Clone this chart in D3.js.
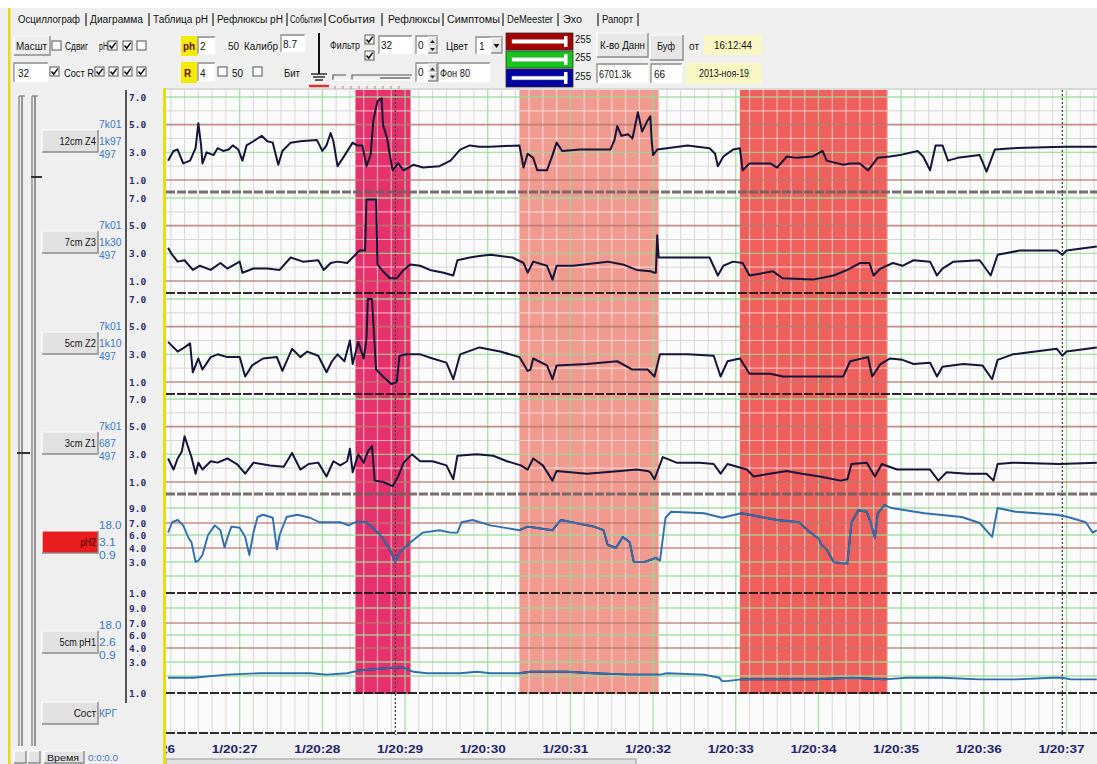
<!DOCTYPE html>
<html><head><meta charset="utf-8">
<script src="https://cdn.jsdelivr.net/npm/d3@7"></script>
<style>
html,body{margin:0;padding:0;background:#fff;overflow:hidden;}
svg{display:block;font-family:"Liberation Sans",Arial,sans-serif;}
</style></head><body>
<svg id="c" width="1097" height="764"></svg>
<script>
// ---------------- DATA ----------------
const tabLabels = ["Осциллограф","Диаграмма","Таблица pH","Рефлюксы pH","События","События","Рефлюксы","Симптомы","DeMeester","Эхо","Рапорт"];
const tickLabels = ["1/20:26","1/20:27","1/20:28","1/20:29","1/20:30","1/20:31","1/20:32","1/20:33","1/20:34","1/20:35","1/20:36","1/20:37"];
const tickSeconds = [0,60,120,180,240,300,360,420,480,540,600,660];
const channelNames = ["12cm Z4","7cm Z3","5cm Z2","3cm Z1","pH2","5cm pH1"];
const channelInfo = [["7k01","1k97","497"],["7k01","1k30","497"],["7k01","1k10","497"],["7k01","687","497"],["18.0","3.1","0.9"],["18.0","2.6","0.9"]];
const pressureTicks = [7,5,3,1];
const phTicks = [9,7,6,4,3,1];
const bandStart = [144,263,423];
const bandEnd = [184,364,530];
const cursorTimes = [173,657];

// traces: [seconds after 1/20:26:00, value]
const z4Data = [[8,2.4],[12,3.1],[15,3.2],[19,2.2],[24,2.4],[28,3.3],[30,5.1],[32,3.5],[33,2.2],[36,3.0],[41,2.8],[44,3.3],[48,3.1],[52,3.2],[55,3.5],[59,3.2],[62,2.4],[65,3.5],[70,3.8],[76,4.2],[80,3.8],[84,3.7],[88,2.1],[91,3.1],[97,3.7],[104,3.8],[116,3.9],[120,3.1],[123,3.5],[126,4.4],[128,3.8],[131,2.0],[135,2.6],[142,3.7],[145,3.5],[149,3.5],[152,2.0],[155,2.8],[157,5.3],[160,6.7],[163,6.9],[164,5.0],[167,4.0],[169,2.8],[171,1.7],[175,2.2],[179,1.7],[186,2.1],[193,1.9],[205,2.0],[213,2.4],[220,3.2],[227,3.5],[234,3.4],[242,3.4],[263,3.5],[266,1.9],[269,2.9],[273,2.6],[276,1.7],[283,1.7],[287,2.8],[290,3.7],[294,3.1],[307,3.2],[329,3.2],[332,3.9],[334,4.9],[337,4.2],[342,4.3],[345,4.0],[349,5.9],[352,4.5],[356,5.3],[358,5.6],[359,3.8],[360,2.8],[363,3.2],[370,3.3],[385,3.5],[401,3.3],[405,2.9],[407,2.0],[411,2.7],[418,3.2],[423,3.3],[425,1.7],[430,2.2],[445,2.2],[450,1.9],[457,2.7],[464,2.6],[476,2.7],[483,3.1],[486,2.4],[494,2.2],[498,2.1],[503,2.2],[510,2.2],[516,1.7],[523,2.6],[532,2.7],[539,2.8],[552,3.1],[556,2.7],[561,1.7],[565,3.5],[570,3.5],[574,2.4],[581,2.6],[597,2.8],[602,1.6],[608,3.2],[621,3.3],[658,3.4],[682,3.4]];
const z3Data = [[8,3.4],[11,2.9],[15,2.4],[20,2.5],[26,1.8],[31,2.1],[39,1.8],[46,2.3],[51,1.9],[60,2.4],[62,1.6],[70,1.9],[80,1.9],[89,1.8],[97,2.7],[106,2.4],[117,2.5],[121,1.8],[126,2.3],[131,2.4],[138,2.3],[142,2.7],[147,3.2],[151,3.2],[152,6.9],[159,6.9],[160,2.2],[164,1.7],[169,1.2],[174,1.2],[179,1.8],[184,2.2],[191,2.1],[198,1.8],[208,1.6],[215,1.4],[218,2.5],[227,2.7],[234,2.8],[242,2.9],[258,2.7],[266,2.3],[269,1.6],[273,2.4],[283,2.1],[287,1.1],[290,2.1],[302,2.1],[327,2.4],[338,2.2],[348,1.8],[358,1.7],[361,1.6],[362,1.6],[363,4.3],[364,2.7],[370,2.7],[401,2.7],[407,1.4],[411,2.1],[418,2.4],[425,2.3],[430,1.4],[447,1.7],[454,1.2],[476,1.1],[491,1.4],[501,1.8],[510,2.3],[517,2.3],[520,1.4],[525,1.9],[534,2.3],[541,2.1],[549,2.5],[561,2.4],[566,1.4],[570,1.9],[578,2.4],[597,2.5],[605,1.4],[610,2.9],[626,3.2],[653,3.2],[657,2.9],[660,3.2],[682,3.5]];
const z2Data = [[8,3.9],[12,3.5],[15,3.2],[20,3.5],[24,3.8],[26,1.7],[30,2.7],[33,1.9],[39,2.8],[44,3.0],[51,2.8],[60,2.8],[64,1.4],[69,2.2],[77,2.7],[87,2.8],[91,1.8],[98,3.4],[104,2.8],[109,3.2],[117,2.9],[123,1.7],[127,2.5],[131,3.0],[136,2.5],[140,4.0],[142,2.3],[146,3.9],[150,2.7],[152,4.1],[153,7.0],[156,7.0],[159,1.9],[164,1.4],[170,0.85],[174,1.0],[176,2.9],[181,3.0],[191,3.0],[200,2.7],[210,2.4],[215,1.2],[220,3.0],[234,3.5],[249,3.2],[263,2.8],[269,1.8],[271,1.9],[273,2.7],[283,2.2],[287,1.2],[290,2.2],[312,2.3],[334,2.5],[345,1.9],[356,1.9],[361,1.4],[365,3.0],[385,3.0],[404,2.9],[409,1.4],[414,2.5],[423,2.7],[430,1.6],[445,1.6],[454,1.4],[469,1.4],[498,1.4],[503,2.5],[516,2.8],[519,1.4],[525,2.3],[532,2.7],[541,2.6],[549,2.3],[561,2.4],[566,1.4],[570,2.1],[585,2.3],[599,2.2],[606,1.2],[610,2.6],[621,3.0],[653,3.4],[657,2.9],[660,3.2],[682,3.5]];
const z1Data = [[8,2.7],[12,1.9],[15,2.7],[18,3.2],[20,4.3],[23,3.4],[25,2.8],[28,1.6],[30,2.4],[33,1.9],[39,2.5],[44,2.4],[51,2.7],[58,2.3],[64,1.6],[70,2.4],[82,2.2],[92,2.1],[98,3.1],[104,1.9],[110,2.3],[117,2.4],[123,1.4],[128,2.5],[133,2.2],[138,2.5],[140,3.4],[142,1.7],[146,3.0],[150,2.4],[153,3.2],[156,3.6],[158,1.1],[164,1.0],[171,0.7],[175,1.4],[179,2.4],[185,3.0],[191,2.5],[200,2.5],[210,2.2],[215,1.2],[218,2.9],[232,3.0],[244,2.9],[254,2.5],[264,2.2],[269,1.9],[273,2.7],[280,2.2],[287,1.1],[290,1.8],[312,1.6],[336,1.8],[348,1.9],[356,1.8],[358,1.7],[361,1.2],[367,2.8],[377,2.4],[394,2.4],[404,2.3],[409,1.6],[414,2.3],[428,1.9],[433,1.4],[457,1.8],[468,1.6],[481,1.4],[496,1.1],[501,1.2],[504,2.3],[515,2.4],[521,1.4],[526,2.3],[537,1.9],[549,1.9],[561,1.9],[567,1.1],[573,1.7],[588,1.6],[602,1.6],[607,1.1],[610,2.3],[621,2.4],[655,2.3],[682,2.4]];
const ph2Data = [[8,6.2],[11,7.1],[15,7.4],[19,6.8],[23,5.5],[25,4.9],[28,3.0],[30,3.1],[33,3.5],[37,6.0],[42,6.8],[46,6.4],[49,4.1],[51,5.5],[54,6.7],[60,6.6],[64,5.7],[67,3.5],[70,6.2],[73,7.8],[77,8.1],[84,7.7],[87,3.9],[89,6.0],[94,7.8],[102,8.1],[111,7.7],[118,7.1],[133,7.1],[139,6.8],[144,7.1],[152,7.1],[162,6.0],[169,3.9],[173,3.0],[176,3.7],[184,4.9],[193,6.2],[205,6.4],[213,6.2],[218,6.2],[221,7.1],[229,7.4],[242,6.8],[263,6.4],[269,6.7],[287,6.4],[293,7.4],[317,6.7],[324,6.4],[327,4.5],[333,4.0],[338,5.7],[343,4.9],[346,3.0],[354,3.0],[362,3.3],[365,3.1],[369,7.7],[373,8.5],[397,8.3],[410,7.7],[424,8.3],[450,7.4],[466,7.1],[474,6.2],[480,5.5],[482,4.5],[486,3.9],[491,3.0],[498,2.9],[501,2.9],[504,7.1],[509,8.7],[515,8.5],[518,7.0],[521,5.5],[523,8.3],[528,9.4],[533,9.0],[557,8.3],[584,7.8],[597,7.0],[606,5.7],[610,9.0],[623,8.5],[653,8.1],[661,7.8],[674,7.1],[679,6.2],[682,6.4]];
const ph1Data = [[8,1.9],[17,1.9],[26,1.9],[51,2.1],[75,2.2],[99,2.2],[111,2.2],[123,2.1],[138,2.2],[147,2.4],[160,2.5],[171,2.6],[179,2.6],[186,2.3],[196,2.2],[220,2.2],[232,2.3],[242,2.2],[263,2.2],[271,2.3],[298,2.3],[317,2.2],[343,2.1],[365,2.1],[370,2.2],[397,2.1],[408,1.9],[410,1.7],[413,1.7],[424,1.8],[450,1.8],[477,1.8],[504,1.9],[528,1.8],[544,1.9],[570,1.9],[597,1.8],[623,1.8],[650,1.9],[657,1.9],[663,1.8],[682,1.8]];

// ---------------- LAYOUT ----------------
const W = 1097, H = 764;
const PX0 = 166, PX1 = 1097, PY0 = 90, PYB = 733;
const chTop = [97,198,299,399,508,608];
const chType = ["p","p","p","p","h","h"];
const traces = [z4Data,z3Data,z2Data,z1Data,ph2Data,ph1Data];
const bandColors = ["#e5326c","#f19a8f","#ef5f5c"];
const GREEN = "#96dc96", BROWN = "#b87a72", MINOR = "#d9d6d6";

const svg = d3.select("#c");
const defs = svg.append("defs");
defs.append("clipPath").attr("id","plotClip").append("rect")
  .attr("x",PX0).attr("y",PY0).attr("width",PX1-PX0).attr("height",PYB-PY0+2);
defs.append("clipPath").attr("id","labClip").append("rect")
  .attr("x",PX0).attr("y",736).attr("width",PX1-PX0).attr("height",28);

const x = d3.scaleLinear().domain([0,660]).range([157,1066.5]);

const scales = chTop.map((top,i) => chType[i]==="p"
  ? d3.scaleLinear().domain([7,1]).range([top, top+83])
  : d3.scaleLinear().domain([9,7,6,4,3,2,1]).range([0,15,27,40,54,68,85].map(o=>top+o)));

// band clip
const bc = defs.append("clipPath").attr("id","bandClip");
bandStart.forEach((s,i)=>{
  bc.append("rect").attr("x",x(s)).attr("y",PY0).attr("width",x(bandEnd[i])-x(s)).attr("height",694-PY0);
});

// ---------------- BACKGROUND ----------------
svg.append("rect").attr("width",W).attr("height",H).attr("fill","#efefef");
svg.append("rect").attr("width",W).attr("height",8).attr("fill","#ffffff");
svg.append("rect").attr("x",PX0).attr("y",PY0).attr("width",PX1-PX0).attr("height",PYB-PY0).attr("fill","#fbfbfb");
svg.append("line").attr("x1",163).attr("x2",W).attr("y1",89).attr("y2",89).attr("stroke","#c4c4c4");

const plot = svg.append("g").attr("clip-path","url(#plotClip)");

const secs = d3.range(0, 690, 10);
const minorV = secs.filter(s => s % 60 !== 0);
plot.selectAll(".mv").data(minorV).join("line")
  .attr("x1",d=>x(d)).attr("x2",d=>x(d)).attr("y1",PY0).attr("y2",PYB)
  .attr("stroke",MINOR).attr("stroke-width",1);

const hLines = [];
chTop.forEach((top,i)=>{
  const sc = scales[i];
  if (chType[i]==="p") {
    [7,6,5,4,3,2,1].forEach(v=>{
      const kind = (v===7||v===3) ? "g" : (v===5||v===1) ? "b" : "m";
      hLines.push({y:sc(v), kind});
    });
  } else {
    [9,7,6,4,3,2].forEach(v=>{
      hLines.push({y:sc(v), kind:(v===7||v===4)?"b":"g"});
    });
  }
});
plot.selectAll(".mh").data(hLines.filter(d=>d.kind==="m")).join("line")
  .attr("x1",PX0).attr("x2",PX1).attr("y1",d=>d.y).attr("y2",d=>d.y)
  .attr("stroke",MINOR).attr("stroke-width",1);

// bands
plot.selectAll(".band").data(bandStart).join("rect")
  .attr("x",d=>x(d)).attr("y",PY0)
  .attr("width",(d,i)=>x(bandEnd[i])-x(d)).attr("height",694-PY0)
  .attr("fill",(d,i)=>bandColors[i]);

// pale grid over bands
const over = plot.append("g").attr("clip-path","url(#bandClip)");
over.selectAll("line.v").data(minorV).join("line")
  .attr("x1",d=>x(d)).attr("x2",d=>x(d)).attr("y1",PY0).attr("y2",PYB)
  .attr("stroke","#fff").attr("stroke-opacity",0.55).attr("stroke-width",1.2);
over.selectAll("line.h").data(hLines.filter(d=>d.kind==="m")).join("line")
  .attr("x1",PX0).attr("x2",PX1).attr("y1",d=>d.y).attr("y2",d=>d.y)
  .attr("stroke","#fff").attr("stroke-opacity",0.55).attr("stroke-width",1.2);

// major vertical lines
plot.selectAll(".majV").data(secs.filter(s=>s%60===0)).join("line")
  .attr("x1",d=>x(d)).attr("x2",d=>x(d)).attr("y1",PY0).attr("y2",PYB)
  .attr("stroke",GREEN).attr("stroke-opacity",0.85).attr("stroke-width",1.3);
plot.selectAll(".ch").data(hLines.filter(d=>d.kind!=="m")).join("line")
  .attr("x1",PX0).attr("x2",PX1).attr("y1",d=>d.y).attr("y2",d=>d.y)
  .attr("stroke",d=>d.kind==="g"?GREEN:BROWN).attr("stroke-opacity",0.85)
  .attr("stroke-width",d=>d.kind==="g"?1.3:1.6);

// separators
const seps = chTop.map((top,i)=> chType[i]==="p" ? top+95 : scales[i](1));
seps.push(PYB);
plot.selectAll(".sep").data(seps).join("line")
  .attr("x1",PX0).attr("x2",PX1).attr("y1",d=>d).attr("y2",d=>d)
  .attr("stroke",(d,i)=> (i===0||i===3) ? "#6a6262" : "#151515")
  .attr("stroke-opacity",0.9)
  .attr("stroke-width",(d,i)=> (i===0||i===3) ? 3 : 2.2)
  .attr("stroke-dasharray","9,2");

// cursor lines
plot.selectAll(".cur").data(cursorTimes).join("line")
  .attr("x1",d=>x(d)).attr("x2",d=>x(d)).attr("y1",PY0).attr("y2",PYB+6)
  .attr("stroke","#4a4040").attr("stroke-width",1.3).attr("stroke-dasharray","2,2");

// traces
traces.forEach((data,i)=>{
  const sc = scales[i];
  const line = d3.line().x(d=>x(d[0])).y(d=>sc(d[1]));
  if (chType[i]==="p") {
    plot.append("path").datum(data).attr("d",line).attr("fill","none")
      .attr("stroke","#15153a").attr("stroke-width",2).attr("stroke-linejoin","round");
  } else {
    plot.append("path").datum(data).attr("d",line).attr("fill","none")
      .attr("stroke","#2f6fae").attr("stroke-width",1.9).attr("stroke-linejoin","round");
    over.append("path").datum(data).attr("d",line).attr("fill","none")
      .attr("stroke","#1a1a30").attr("stroke-width",1.9).attr("stroke-linejoin","round");
  }
});

// x labels
svg.append("g").attr("clip-path","url(#labClip)").selectAll("text").data(tickSeconds).join("text")
  .attr("x",d=>x(d)-5).attr("y",753).attr("text-anchor","middle")
  .attr("font-size",11).attr("font-weight","bold").attr("fill","#23236a")
  .attr("textLength",46).attr("lengthAdjust","spacingAndGlyphs")
  .text((d,i)=>tickLabels[i]);

// bottom scrollbar edge
svg.append("rect").attr("x",PX0).attr("y",759).attr("width",470).attr("height",8)
  .attr("fill","#e2e2e2").attr("stroke","#9a9a9a");

// yellow borders
svg.append("rect").attr("x",8).attr("y",8).attr("width",2.5).attr("height",H-8).attr("fill","#e2dc10");
svg.append("rect").attr("x",163).attr("y",88).attr("width",3).attr("height",H-88).attr("fill","#e6df10");

// ---------------- LEFT PANEL ----------------
const lp = svg.append("g");
[[19,22],[32,35]].forEach(([a,b])=>{
  lp.append("line").attr("x1",a).attr("x2",a).attr("y1",96).attr("y2",746).attr("stroke","#777").attr("stroke-width",1.2);
  lp.append("line").attr("x1",b).attr("x2",b).attr("y1",96).attr("y2",746).attr("stroke","#555").attr("stroke-width",1.2);
  lp.append("line").attr("x1",a).attr("x2",a+6).attr("y1",96).attr("y2",96).attr("stroke","#777").attr("stroke-width",1.2);
});
lp.append("line").attr("x1",31).attr("x2",42).attr("y1",177).attr("y2",177).attr("stroke","#333").attr("stroke-width",2);
lp.append("line").attr("x1",17).attr("x2",30).attr("y1",453).attr("y2",453).attr("stroke","#333").attr("stroke-width",2);
lp.append("line").attr("x1",126).attr("x2",126).attr("y1",PY0).attr("y2",703).attr("stroke","#222").attr("stroke-width",1.5);

function raised(g,x0,y0,w,h,fill){
  g.append("rect").attr("x",x0).attr("y",y0).attr("width",w).attr("height",h).attr("fill",fill||"#e3e3e3");
  g.append("path").attr("d",`M${x0},${y0+h}V${y0}H${x0+w}`).attr("fill","none").attr("stroke","#fff").attr("stroke-width",1.2);
  g.append("path").attr("d",`M${x0},${y0+h}H${x0+w}V${y0}`).attr("fill","none").attr("stroke","#8a8a8a").attr("stroke-width",1.4);
}
function sunken(g,x0,y0,w,h,fill){
  g.append("rect").attr("x",x0).attr("y",y0).attr("width",w).attr("height",h).attr("fill",fill||"#fff");
  g.append("path").attr("d",`M${x0},${y0+h}V${y0}H${x0+w}`).attr("fill","none").attr("stroke","#8a8a8a").attr("stroke-width",1.3);
  g.append("path").attr("d",`M${x0},${y0+h}H${x0+w}V${y0}`).attr("fill","none").attr("stroke","#fafafa").attr("stroke-width",1);
}
function txt(g,x0,y0,s,o){
  o=o||{};
  const t=g.append("text").attr("x",x0).attr("y",y0).text(s)
    .attr("font-size",o.size||10).attr("fill",o.fill||"#111")
    .attr("font-weight",o.weight||"normal").attr("text-anchor",o.anchor||"start");
  if(o.len) t.attr("textLength",o.len).attr("lengthAdjust","spacingAndGlyphs");
  if(o.family) t.attr("font-family",o.family);
  return t;
}
function checkbox(g,x0,y0,checked){
  g.append("rect").attr("x",x0).attr("y",y0).attr("width",9).attr("height",9).attr("fill","#fff").attr("stroke","#555").attr("stroke-width",1);
  if(checked) g.append("path").attr("d",`M${x0+1.5},${y0+4.5}l2.2,2.6l4,-5.5`).attr("fill","none").attr("stroke","#111").attr("stroke-width",1.6);
}

chTop.forEach((top,i)=>{
  const cy = chType[i]==="p" ? top+44 : top+34;
  const isRed = i===4;
  raised(lp,42,cy-11,56,22,isRed?"#e81e1e":"#e1e1e1");
  txt(lp,96,cy+4,channelNames[i],{anchor:"end",size:10,len:channelNames[i].length*5.2,fill:isRed?"#400":"#111"});
  channelInfo[i].forEach((s,k)=>{
    txt(lp,99,cy+[-13,4,17][k],s,{size:10,fill:"#3a78c0",len:s.length*5.6});
  });
  const sc = scales[i];
  const ticks = chType[i]==="p" ? pressureTicks : phTicks;
  ticks.forEach(v=>{
    txt(lp,129,sc(v)+3.5,d3.format(".1f")(v),{size:9.5,weight:"bold",fill:"#2e2e6e",family:"DejaVu Sans Mono, monospace"});
  });
});
raised(lp,42,702,56,22,"#e1e1e1");
txt(lp,96,717,"Сост",{anchor:"end",size:10});
txt(lp,99,717,"КРГ",{size:10,fill:"#3a78c0"});
// bottom-left controls
raised(lp,14,751,12,12); raised(lp,28,751,12,12);
raised(lp,44,751,40,12);
txt(lp,47,760.5,"Время",{size:8.5,len:32});
txt(lp,88,760.5,"0:0:0.0",{size:8.5,fill:"#3a78c0",len:30});

// ---------------- TOOLBAR ----------------
const tb = svg.append("g");
const tabX = [18,90,153,217,290,328,388,447,507,563,602];
const tabW = [62,53,55,66,32,47,52,53,46,19,31];
const sepX = [86,149,213,287,325,382,443,503,558,598,638];
tabLabels.forEach((s,i)=> txt(tb,tabX[i],23,s,{size:10,len:tabW[i]}));
sepX.forEach(sx=> tb.append("line").attr("x1",sx).attr("x2",sx).attr("y1",13).attr("y2",26).attr("stroke","#222").attr("stroke-width",1.2));

// row 2
raised(tb,14,36,36,19,"#ececec"); txt(tb,16,50,"Масшт",{len:31});
checkbox(tb,52,41,false);
txt(tb,65,50,"Сдвиг",{len:23});
txt(tb,99,50,"pH",{len:9});
checkbox(tb,108,41,true); checkbox(tb,123,41,true); checkbox(tb,137,41,false);
tb.append("rect").attr("x",181).attr("y",36).attr("width",16).attr("height",20).attr("fill","#f2ec00");
txt(tb,183,50,"ph",{weight:"bold",fill:"#6a1010"});
sunken(tb,198,37,17,17); txt(tb,200,50,"2");
txt(tb,228,50,"50");
txt(tb,244,50,"Калибр",{len:34});
sunken(tb,281,35,24,17); txt(tb,283,48,"8.7",{len:14});
tb.append("line").attr("x1",319).attr("x2",319).attr("y1",33).attr("y2",74).attr("stroke","#111").attr("stroke-width",2);
[[311,327,74],[313,325,77],[315,323,80]].forEach(([a,b,yy])=>tb.append("line").attr("x1",a).attr("x2",b).attr("y1",yy).attr("y2",yy).attr("stroke","#111").attr("stroke-width",1.3));
tb.append("line").attr("x1",309).attr("x2",329).attr("y1",86).attr("y2",86).attr("stroke","#e03030").attr("stroke-width",2.5);
txt(tb,330,49,"Фильтр",{len:30});
checkbox(tb,365,35,true); checkbox(tb,365,51,true);
sunken(tb,379,36,33,18); txt(tb,381,49,"32");
function spin(x0,y0,h){
  sunken(tb,x0,y0,22,h); txt(tb,x0+2,y0+13,"0");
  raised(tb,x0+12,y0+1,9,h/2-1,"#e6e6e6"); raised(tb,x0+12,y0+h/2,9,h/2-1,"#e6e6e6");
  tb.append("path").attr("d",`M${x0+14},${y0+h/2-2}l2.5,-3l2.5,3z M${x0+14},${y0+h/2+3}l2.5,3l2.5,-3z`).attr("fill","#222");
}
spin(416,36,18);
txt(tb,446,50,"Цвет",{len:22});
sunken(tb,476,37,27,17); txt(tb,479,50,"1");
raised(tb,491,38,11,15,"#e6e6e6");
tb.append("path").attr("d","M493.5,44h6l-3,4z").attr("fill","#111");
[["#a40000",33,17],["#18c41c",51,17],["#0000a2",69,18]].forEach(([c,yy,h])=>{
  tb.append("rect").attr("x",506).attr("y",yy).attr("width",67).attr("height",h).attr("fill",c).attr("stroke","#333").attr("stroke-width",0.8);
  tb.append("rect").attr("x",512).attr("y",yy+h/2-1.8).attr("width",55).attr("height",3.6).attr("fill","#fff").attr("stroke","#bbb").attr("stroke-width",0.6);
  tb.append("rect").attr("x",564).attr("y",yy+3).attr("width",3.5).attr("height",h-6).attr("fill","#fff");
});
[43,61,80].forEach(yy=>txt(tb,575,yy,"255",{size:10,len:16}));
raised(tb,597,33,51,24,"#e6e6e6"); txt(tb,600,49,"К-во Данн",{len:45});
raised(tb,650,35,33,25,"#e6e6e6"); txt(tb,657,50,"Буф",{len:18});
txt(tb,689,50,"от",{len:10});
tb.append("rect").attr("x",704).attr("y",35).attr("width",58).attr("height",20).attr("fill","#f9f8c4");
txt(tb,733,49,"16:12:44",{anchor:"middle",len:38});

// row 3
sunken(tb,14,63,34,19); txt(tb,18,77,"32");
checkbox(tb,50,67,true);
txt(tb,64,77,"Сост R",{len:30});
[95,109,123,137].forEach(cx=>checkbox(tb,cx,67,true));
tb.append("rect").attr("x",181).attr("y",62).attr("width",16).attr("height",21).attr("fill","#f2ec00");
txt(tb,184,77,"R",{weight:"bold",fill:"#6a1010"});
sunken(tb,198,63,17,18); txt(tb,200,77,"4");
checkbox(tb,218,67,false); txt(tb,232,77,"50");
checkbox(tb,253,67,false); txt(tb,284,77,"Бит",{len:16});
tb.append("path").attr("d","M333,80V75H346 M352,80V75H412").attr("fill","none").attr("stroke","#555").attr("stroke-width",1.2);
tb.append("line").attr("x1",333).attr("x2",412).attr("y1",80).attr("y2",80).attr("stroke","#fff");
d3.range(335,402,8).forEach(tx=>tb.append("line").attr("x1",tx).attr("x2",tx).attr("y1",86).attr("y2",89).attr("stroke","#c9a0a0").attr("stroke-width",1.5));
spin(416,63,19);
sunken(tb,438,63,52,19); txt(tb,440,77,"Фон 80",{len:30});
tb.append("line").attr("x1",380).attr("x2",410).attr("y1",78).attr("y2",78).attr("stroke","#333");
sunken(tb,597,64,51,19); txt(tb,599,78,"6701.3k",{len:32});
sunken(tb,651,64,31,19); txt(tb,654,78,"66");
tb.append("rect").attr("x",686).attr("y",63).attr("width",76).attr("height",21).attr("fill","#f9f8c4");
txt(tb,724,77,"2013-ноя-19",{anchor:"middle",len:50});
</script>
</body></html>
